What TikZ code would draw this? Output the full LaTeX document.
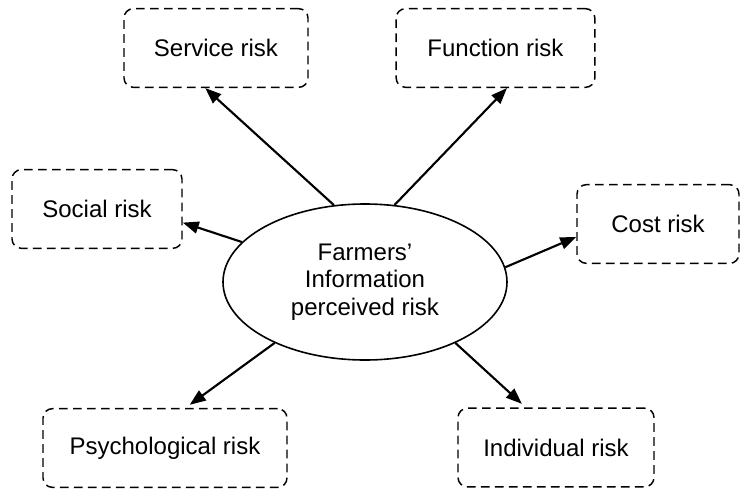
\documentclass[tikz,border=0pt]{standalone}
\usepackage{fontspec}
\setmainfont{Liberation Sans}
\usetikzlibrary{shapes.geometric,arrows.meta}

\begin{document}
\begin{tikzpicture}[
  x=0.75pt, y=-0.75pt,
  every node/.style={font=\fontsize{18}{20.6}\selectfont, align=center, inner sep=0pt},
  riskbox/.style={rectangle, draw, dash pattern=on 6.5pt off 4pt, line width=1.1pt, rounded corners=7pt, minimum height=59pt},
  core/.style={ellipse, draw, line width=1.2pt, minimum width=213pt, minimum height=117pt},
  link/.style={-{Triangle[length=12pt,width=9pt]}, line width=1.6pt}
]
\useasboundingbox (0,0) rectangle (740,490);

% Nodes
\node[core] (fir) at (365,282) {Farmers'\\Information\\perceived risk};
\node[riskbox, minimum width=138pt] (svc) at (216,48) {Service risk};
\node[riskbox, minimum width=149pt] (fun) at (495.5,48) {Function risk};
\node[riskbox, minimum width=127.5pt] (soc) at (97,209) {Social risk};
\node[riskbox, minimum width=121.5pt] (cost) at (658,224) {Cost risk};
\node[riskbox, minimum width=183pt] (psy) at (165,448) {Psychological risk};
\node[riskbox, minimum width=147pt] (ind) at (556,447.5) {Individual risk};

% Edges from the centre out to each risk
\draw[link] (fir.112) -- (svc.255);
\draw[link] (fir.69) -- (fun.286);
\draw[link] (fir.162) -- (soc.351);
\draw[link] (fir.6) -- (cost.189);
\draw[link, shorten >=4pt] (fir.214) -- (psy.63);
\draw[link, shorten >=4pt] (fir.326) -- (ind.127);
\end{tikzpicture}
\end{document}
